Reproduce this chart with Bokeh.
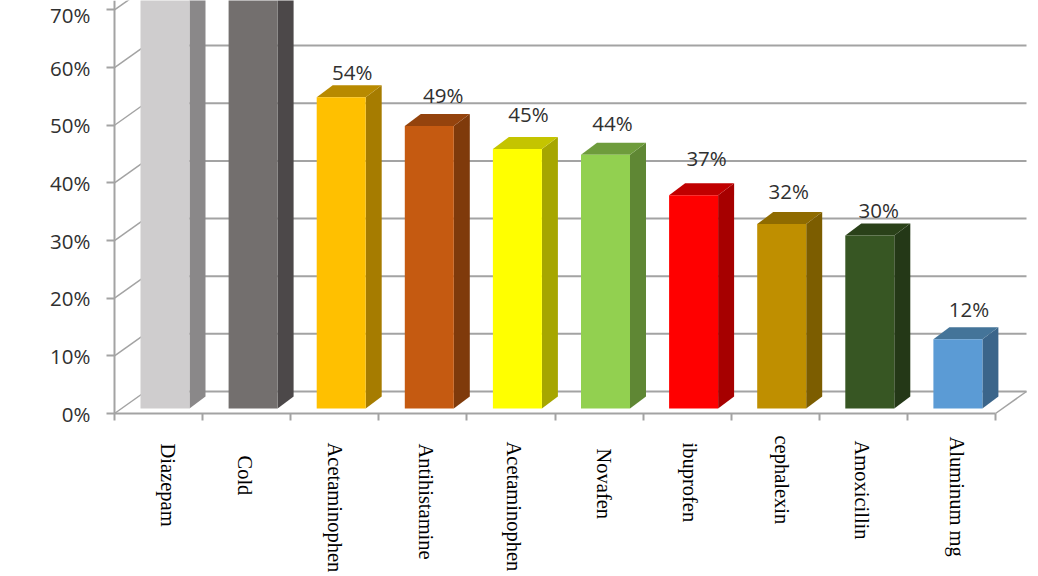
import math
from bokeh.core.properties import value
from bokeh.embed import file_html
from bokeh.models import ColumnDataSource, FixedTicker, LabelSet, LinearAxis, Range1d
from bokeh.plotting import figure
from bokeh.resources import INLINE

# ---- data
categories = ["Diazepam", "Cold", "Acetaminophen", "Antihistamine", "Acetaminophen",
              "Novafen", "ibuprofen", "cephalexin", "Amoxicillin", "Aluminum mg"]
values = [93, 88, 54, 49, 45, 44, 37, 32, 30, 12]   # first two run off the top of the picture
y_ticks = [0, 10, 20, 30, 40, 50, 60, 70]
y_tick_labels = ["0%", "10%", "20%", "30%", "40%", "50%", "60%", "70%"]

# ---- styles
front_colors = ["#cfcdce", "#736f6e", "#ffc000", "#c55a11", "#ffff00",
                "#92d050", "#ff0000", "#bf8f00", "#375623", "#5b9bd5"]
side_colors = ["#8a8889", "#4c4849", "#a67c00", "#7f3a0b", "#a6a600",
               "#5f8734", "#a60000", "#7c5d00", "#243817", "#3b658a"]
top_colors = ["#9a9899", "#565253", "#b88a00", "#94430d", "#c4c400",
              "#6e9c3c", "#c00000", "#8f6b00", "#2a4119", "#447499"]
GRAY = "#a3a3a3"
W, H = 1038, 576
ORIGIN_X, ORIGIN_Y = 114, 413   # where 0,0 falls in the picture
PX_X = 88.1      # pixels per category
PX_Y = 5.765     # pixels per percent
# 3-D projection, in data units
wall_dx, wall_dy = 31 / PX_X, 22 / PX_Y
bar_x0, bar_w = 26 / PX_X, 49 / PX_X
bar_base = 5 / PX_Y
side_dx, side_dy = 16 / PX_X, 12 / PX_Y

p = figure(width=W, height=H, output_backend="svg", toolbar_location=None,
           x_range=Range1d(-ORIGIN_X / PX_X, (W - ORIGIN_X) / PX_X),
           y_range=Range1d((ORIGIN_Y - H) / PX_Y, ORIGIN_Y / PX_Y),
           x_axis_type=None, y_axis_type=None,
           min_border=0, margin=(0, 0, 0, 0))
p.outline_line_color = None
p.grid.visible = False
p.background_fill_color = "white"
n = len(categories)

# y axis
ya = LinearAxis(ticker=FixedTicker(ticks=y_ticks),
                major_label_overrides={t: l for t, l in zip(y_ticks, y_tick_labels)},
                fixed_location=0, bounds=(0, ORIGIN_Y / PX_Y))
ya.axis_line_color = GRAY
ya.axis_line_width = 2
ya.major_tick_line_color = GRAY
ya.major_tick_line_width = 2
ya.major_tick_out = 8
ya.major_tick_in = 0
ya.minor_tick_line_color = None
ya.major_label_standoff = 16
ya.major_label_text_font = "Open Sans"
ya.major_label_text_font_size = "20.5px"
ya.major_label_text_color = "#303030"
p.add_layout(ya, "left")

# x axis (tick marks between the categories)
xa = LinearAxis(ticker=FixedTicker(ticks=list(range(n + 1))),
                major_label_overrides={i: "" for i in range(n + 1)},
                bounds=(0, n), fixed_location=0)
xa.axis_line_color = GRAY
xa.axis_line_width = 2
xa.major_tick_line_color = GRAY
xa.major_tick_line_width = 2
xa.major_tick_out = 7
xa.major_tick_in = 0
xa.minor_tick_line_color = None
p.add_layout(xa, "below")

# back wall gridlines and the diagonals that join them to the axis
p.segment(x0=[wall_dx] * len(y_ticks), y0=[t + wall_dy for t in y_ticks],
          x1=[n + wall_dx] * len(y_ticks), y1=[t + wall_dy for t in y_ticks],
          line_color=GRAY, line_width=2)
p.segment(x0=[0] * len(y_ticks), y0=y_ticks,
          x1=[wall_dx] * len(y_ticks), y1=[t + wall_dy for t in y_ticks],
          line_color=GRAY, line_width=1.5)
p.segment(x0=[n], y0=[0], x1=[n + wall_dx], y1=[wall_dy], line_color=GRAY, line_width=1.5)

# bars
lefts = [i + bar_x0 for i in range(n)]
rights = [l + bar_w for l in lefts]
tops = [v + bar_base for v in values]
p.patches(xs=[[r, r + side_dx, r + side_dx, r] for r in rights],
          ys=[[bar_base, bar_base + side_dy, t + side_dy, t] for t in tops],
          fill_color=side_colors, line_color=None)
p.patches(xs=[[l, r, r + side_dx, l + side_dx] for l, r in zip(lefts, rights)],
          ys=[[t, t, t + side_dy, t + side_dy] for t in tops],
          fill_color=top_colors, line_color=None)
p.quad(left=lefts, right=rights, bottom=[bar_base] * n, top=tops,
       fill_color=front_colors, line_color=None)

# value labels (only those that lie inside the picture)
label_dx = [3, 6, 3, -1, 5, -1, 1, 3]
label_dy = [25, 31.5, 34.6, 32, 36.7, 33.5, 26, 30]
shown = [i for i, v in enumerate(values) if v < ORIGIN_Y / PX_Y]
vsrc = ColumnDataSource(dict(
    x=[lefts[i] + (bar_w + side_dx) / 2 for i in shown],
    y=[tops[i] for i in shown],
    t=[f"{values[i]}%" for i in shown],
    xo=label_dx, yo=label_dy))
p.add_layout(LabelSet(x="x", y="y", text="t", source=vsrc, x_offset="xo", y_offset="yo",
                      text_align="center", text_baseline="middle",
                      text_font=value("Open Sans"), text_font_size=value("20.5px"),
                      text_color="#303030"))

# category labels, turned to read downward
cat_dx = [9, -2, 0, 3, 3, 5, 3, 7, -1, 6]
cat_dy = [-30, -42, -29, -30, -28, -35, -29, -22, -27, -23]
csrc = ColumnDataSource(dict(x=[i + 0.5 for i in range(n)], y=[0] * n, t=categories,
                             xo=cat_dx, yo=cat_dy))
p.add_layout(LabelSet(x="x", y="y", text="t", source=csrc, x_offset="xo", y_offset="yo",
                      angle=-math.pi / 2, text_align="left", text_baseline="middle",
                      text_font=value("Liberation Serif"), text_font_size=value("20.5px"),
                      text_color="#000000"))

open("out.html", "w").write(file_html(p, INLINE))
